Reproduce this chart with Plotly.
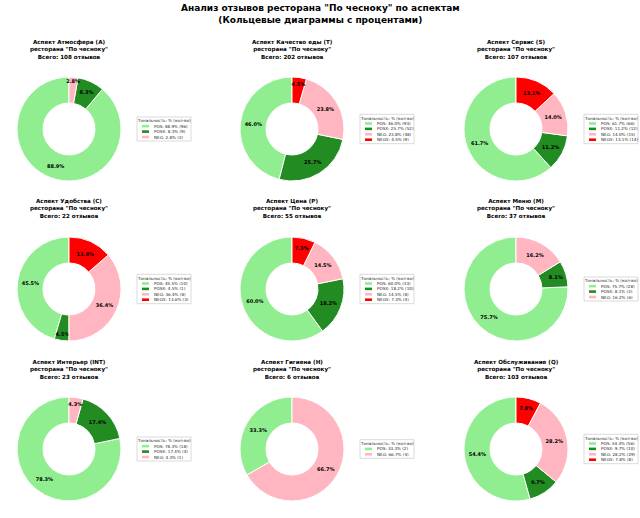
import plotly.graph_objects as go

W, H = 640, 518

# ---- data ----
aspect_names = ["Атмосфера (A)", "Качество еды (T)", "Сервис (S)",
                "Удобства (C)", "Цена (P)", "Меню (M)",
                "Интерьер (INT)", "Гигиена (H)", "Обслуживание (Q)"]
cat_labels = ["POS", "POSX", "NEG", "NEGX"]
pos_counts = [96, 93, 66, 10, 33, 28, 18, 2, 56]
posx_counts = [9, 52, 12, 1, 10, 3, 4, 0, 10]
neg_counts = [3, 48, 15, 8, 8, 6, 1, 4, 29]
negx_counts = [0, 9, 14, 3, 4, 0, 0, 0, 8]
cat_colors = {"POS": "#90EE90", "POSX": "#228B22", "NEG": "#FFB6C1", "NEGX": "#FF0000"}

main_title = 'Анализ отзывов ресторана "По чесноку" по аспектам<br>(Кольцевые диаграммы с процентами)'
legend_title = "Тональность: % (кол-во)"

# ---- layout geometry (pixels) ----
col_cx = [69, 292, 516]
row_cy = [129, 289, 449]
R = 52
FONT = "DejaVu Sans"
LEG_W = 54
LEG_STEP = 5.4


def px(x):
    return x / W


def py(y):
    return 1 - y / H


fig = go.Figure()
annotations = []
shapes = []

for i, name in enumerate(aspect_names):
    r, c = divmod(i, 3)
    cx, cy = col_cx[c], row_cy[r]
    counts_all = [pos_counts[i], posx_counts[i], neg_counts[i], negx_counts[i]]
    total = sum(counts_all)
    labs, vals, cols = [], [], []
    for lab, v in zip(cat_labels, counts_all):
        if v > 0:
            labs.append(f"{lab}: {v / total * 100:.1f}% ({v})")
            vals.append(v)
            cols.append(cat_colors[lab])
    # matplotlib-style: first slice starts at 12 o'clock and runs counterclockwise.
    # plotly's counterclockwise mode ends the first slice at `rotation`, so shift it.
    rot = 360 * (1 - vals[0] / total)
    fig.add_trace(go.Pie(
        labels=labs, values=vals, hole=0.5, sort=False,
        direction="counterclockwise", rotation=rot,
        marker=dict(colors=cols, line=dict(color="white", width=1)),
        texttemplate="<b>%{percent:.1%}</b>", textposition="inside",
        insidetextorientation="horizontal",
        textfont=dict(family=FONT, size=5, color="black"),
        domain=dict(x=[px(cx - R), px(cx + R)], y=[py(cy + R), py(cy - R)]),
        showlegend=False, hoverinfo="label",
    ))

    # subplot title
    annotations.append(dict(
        text=f"<b>Аспект {name}<br>ресторана \"По чесноку\"<br>Всего: {total} отзывов</b>",
        x=px(cx), y=py(cy - 80), xref="paper", yref="paper",
        xanchor="center", yanchor="middle", showarrow=False,
        font=dict(family=FONT, size=5.6, color="black"),
    ))

    # compact legend box (matplotlib style)
    n = len(labs)
    L = cx + R + 16
    box_h = 3.8 + LEG_STEP * n + 4
    T = cy - box_h / 2
    shapes.append(dict(
        type="rect", xref="paper", yref="paper",
        x0=px(L), x1=px(L + LEG_W), y0=py(T + box_h), y1=py(T),
        line=dict(color="#d0d0d0", width=0.8), fillcolor="white", layer="above",
    ))
    annotations.append(dict(
        text=legend_title, x=px(L + LEG_W / 2), y=py(T + 3.8),
        xref="paper", yref="paper", xanchor="center", yanchor="middle",
        showarrow=False, font=dict(family=FONT, size=4.1, color="#222"),
    ))
    for k, (lab, col) in enumerate(zip(labs, cols)):
        yk = T + 3.8 + LEG_STEP * (k + 1)
        shapes.append(dict(
            type="rect", xref="paper", yref="paper",
            x0=px(L + 5), x1=px(L + 12), y0=py(yk + 1.3), y1=py(yk - 1.3),
            line=dict(width=0), fillcolor=col, layer="above",
        ))
        annotations.append(dict(
            text=lab, x=px(L + 15), y=py(yk), xref="paper", yref="paper",
            xanchor="left", yanchor="middle", showarrow=False,
            font=dict(family=FONT, size=4.1, color="#222"),
        ))

annotations.append(dict(
    text=f"<b>{main_title}</b>", x=0.5, y=py(14), xref="paper", yref="paper",
    xanchor="center", yanchor="middle", showarrow=False,
    font=dict(family=FONT, size=9, color="black"),
))

fig.update_layout(
    width=W, height=H, margin=dict(l=0, r=0, t=0, b=0),
    paper_bgcolor="white", plot_bgcolor="white",
    annotations=annotations, shapes=shapes,
    uniformtext=dict(minsize=5, mode="show"),
)

fig.write_html("out.html")
